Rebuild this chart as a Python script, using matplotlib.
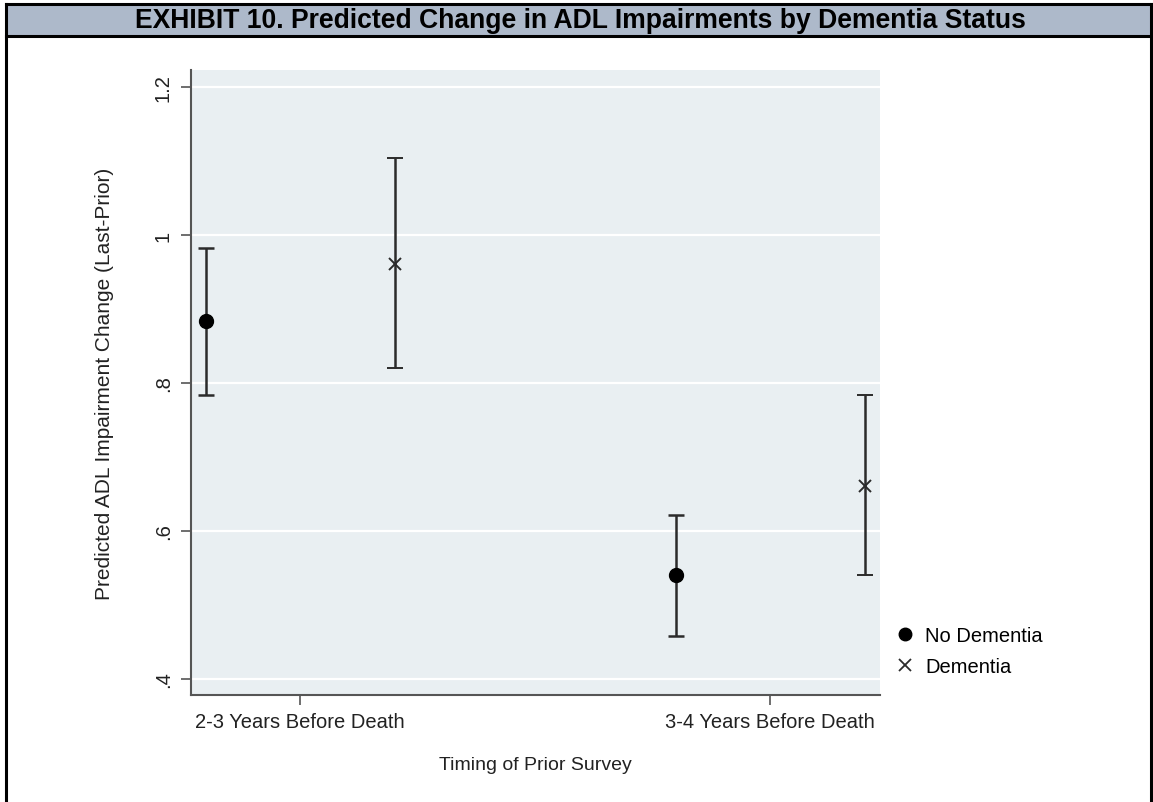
import matplotlib.pyplot as plt
from matplotlib.lines import Line2D
from matplotlib.patches import Rectangle

# ==========================================
# DATA
# ==========================================

categories = ["2-3 Years Before Death", "3-4 Years Before Death"]
series = ["No Dementia", "Dementia"]

no_dem_est = [0.883, 0.540]
no_dem_lo = [0.784, 0.458]
no_dem_hi = [0.982, 0.622]

dem_est = [0.961, 0.661]
dem_lo = [0.820, 0.540]
dem_hi = [1.104, 0.783]

yticks = [0.4, 0.6, 0.8, 1.0, 1.2]
ytick_labels = [".4", ".6", ".8", "1", "1.2"]

title = "EXHIBIT 10. Predicted Change in ADL Impairments by Dementia Status"

# ==========================================
# FIGURE
# ==========================================

W, H = 1153, 803
fig = plt.figure(figsize=(W / 100, H / 100), dpi=100)
plt.rcParams["font.family"] = ["Liberation Sans", "DejaVu Sans"]


def fx(px):
    return px / W


def fy(py):
    return 1 - py / H


# title bar and frame
fig.patches.append(Rectangle((fx(6), fy(37)), fx(1145), fy(5) - fy(37),
                             transform=fig.transFigure, facecolor="#adb9ca",
                             edgecolor="none", zorder=0))
frame = dict(transform=fig.transFigure, color="black", lw=2.2)
fig.add_artist(Line2D([fx(6), fx(1151)], [fy(5), fy(5)], **frame))
fig.add_artist(Line2D([fx(6), fx(1151)], [fy(37), fy(37)], **frame))
fig.add_artist(Line2D([fx(6), fx(6)], [fy(5), 0], **frame))
fig.add_artist(Line2D([fx(1151), fx(1151)], [fy(5), 0], **frame))

fig.text(fx(580), fy(21), title, ha="center", va="center",
         family=["Liberation Sans Narrow", "Liberation Sans"],
         fontweight="bold", fontsize=19.1, color="black")

# ==========================================
# PLOT
# ==========================================

ax = fig.add_axes([fx(191), fy(696), fx(880) - fx(191), fy(71) - fy(696)])
ax.set_facecolor("#e9eff2")

x = [0, 1]
off_no, off_dem = -0.2, 0.202
axis_col = "#555555"
bar_col = "#2b2b2b"
txt_col = "#222222"
fs = 14.5

ax.errorbar([v + off_no for v in x], no_dem_est,
            yerr=[[e - l for e, l in zip(no_dem_est, no_dem_lo)],
                  [h - e for e, h in zip(no_dem_est, no_dem_hi)]],
            fmt="o", color="black", ecolor=bar_col, elinewidth=1.8,
            capsize=5.5, capthick=1.8, markersize=10, clip_on=False, zorder=3)
ax.errorbar([v + off_dem for v in x], dem_est,
            yerr=[[e - l for e, l in zip(dem_est, dem_lo)],
                  [h - e for e, h in zip(dem_est, dem_hi)]],
            fmt="x", color=bar_col, ecolor=bar_col, elinewidth=1.8,
            capsize=5.5, capthick=1.8, markersize=9, markeredgewidth=1.4,
            clip_on=False, zorder=3)

ax.set_xlim(-0.232, 1.234)
ax.set_ylim(0.378, 1.223)

ax.set_yticks(yticks)
ax.set_yticklabels(ytick_labels, rotation=90, va="center")
ax.set_xticks(x)
ax.set_xticklabels(categories)
ax.tick_params(axis="both", colors=axis_col, labelcolor=txt_col,
               labelsize=fs, length=7, width=1.2)
ax.tick_params(axis="y", pad=6)
ax.tick_params(axis="x", pad=5)

ax.grid(axis="y", color="white", lw=1.6)
ax.set_axisbelow(True)

for side in ["top", "right"]:
    ax.spines[side].set_visible(False)
for side in ["left", "bottom"]:
    ax.spines[side].set_color(axis_col)
    ax.spines[side].set_linewidth(1.5)

ax.set_ylabel("Predicted ADL Impairment Change (Last-Prior)",
              fontsize=15, color=txt_col, labelpad=29)
ax.set_xlabel("Timing of Prior Survey", fontsize=14, color=txt_col,
              labelpad=18)

# legend
handles = [
    Line2D([], [], ls="none", marker="o", color="black", markersize=9),
    Line2D([], [], ls="none", marker="x", color=bar_col, markersize=8,
           markeredgewidth=1.3),
]
fig.legend(handles, series, loc="center left",
           bbox_to_anchor=(fx(895), fy(652)), frameon=False,
           fontsize=fs, handlelength=1.0, handletextpad=0.5,
           labelspacing=0.6, borderaxespad=0, borderpad=0)

plt.savefig("out.png", dpi=100)
